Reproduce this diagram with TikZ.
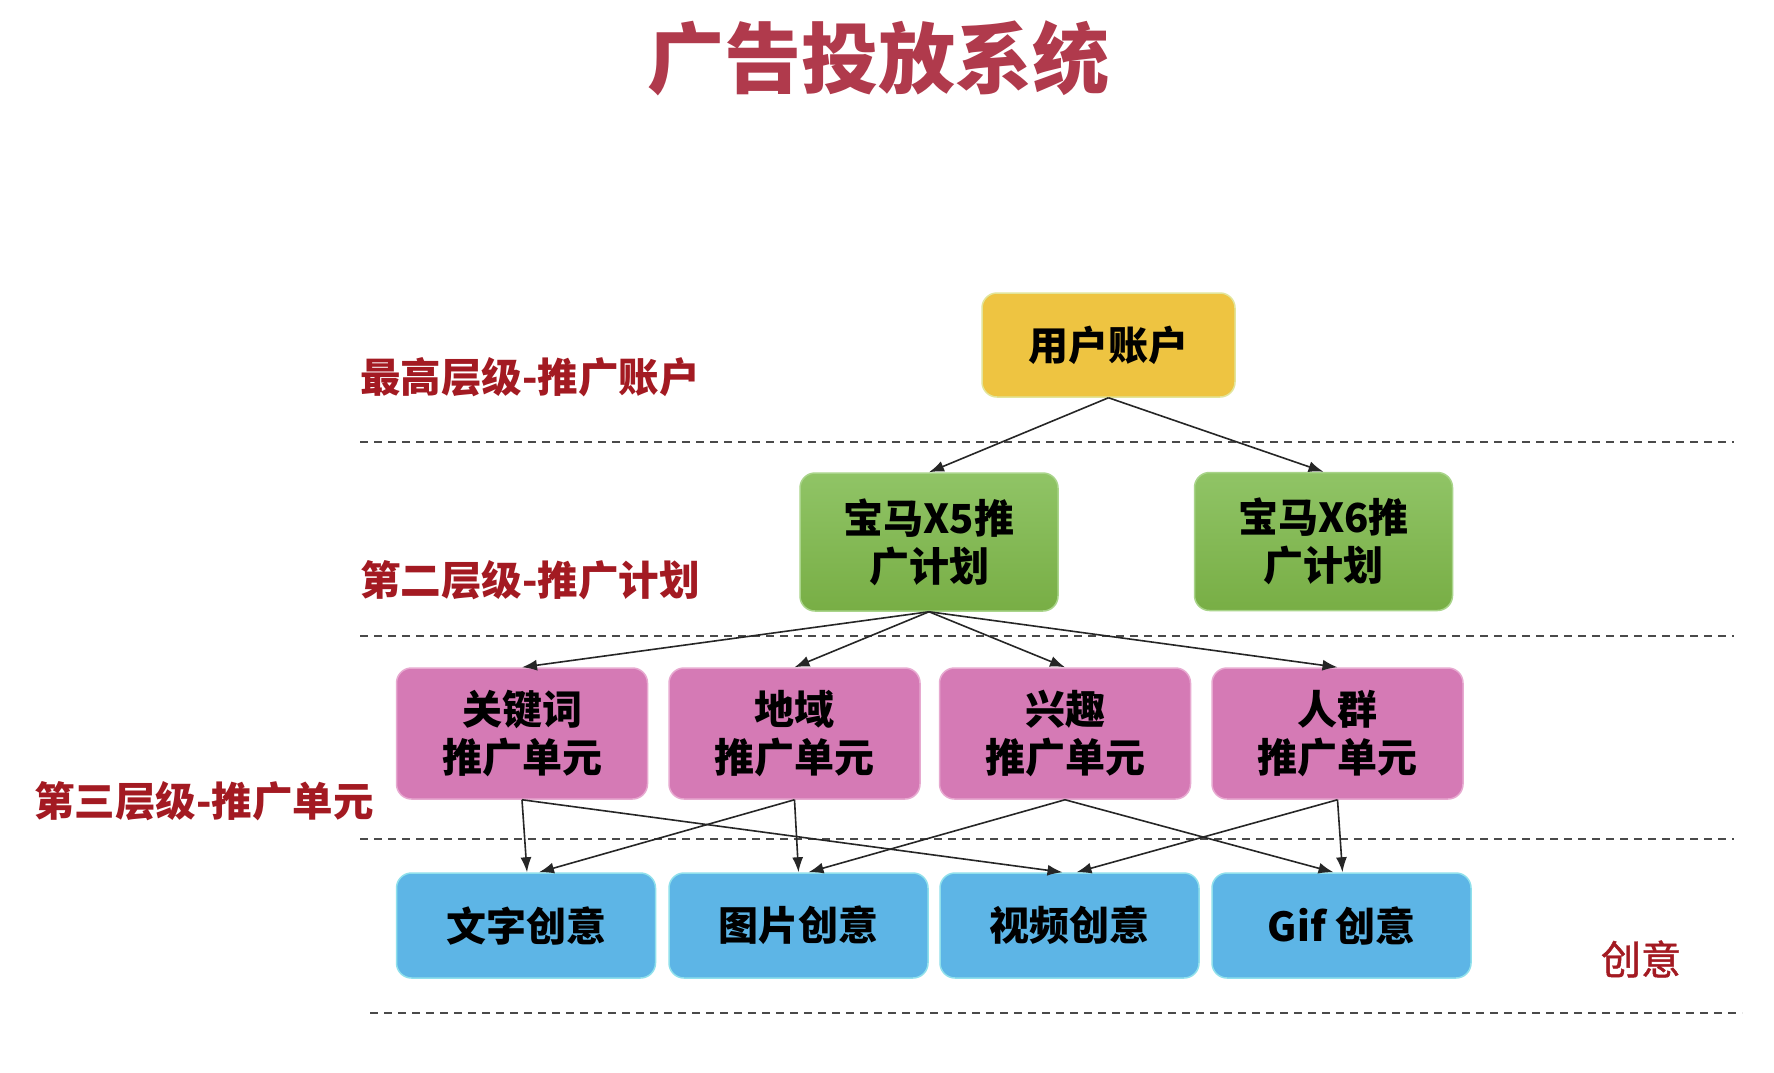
\documentclass[tikz,border=0pt]{standalone}
\usepackage{fontspec}
\setmainfont{Noto Sans CJK SC}
\newfontfamily\medfont[FakeBold=1.2]{Noto Sans CJK SC}
\usetikzlibrary{arrows.meta}
\definecolor{titlered}{HTML}{B03A4C}
\definecolor{labelred}{HTML}{A31A22}
\definecolor{acctfill}{HTML}{EEC441}
\definecolor{acctedge}{HTML}{E2E59A}
\definecolor{greentop}{HTML}{90C466}
\definecolor{greenbot}{HTML}{78AE45}
\definecolor{greenedge}{HTML}{A9D48A}
\definecolor{pinkfill}{HTML}{D57AB5}
\definecolor{pinkedge}{HTML}{E7A9D0}
\definecolor{bluefill}{HTML}{5DB5E6}
\definecolor{blueedge}{HTML}{8FE0EC}
\definecolor{dashgray}{HTML}{4A4A4A}
\tikzset{
  box/.style={rounded corners=15pt, inner sep=0pt, align=center,
    font=\bfseries\fontsize{40}{48}\selectfont, text=black, line width=1.5pt},
  acctbox/.style={box, fill=acctfill, draw=acctedge, minimum width=253pt, minimum height=104pt},
  planbox/.style={box, top color=greentop, bottom color=greenbot, draw=greenedge, minimum width=258pt, minimum height=138pt},
  unitbox/.style={box, fill=pinkfill, draw=pinkedge, minimum width=251pt, minimum height=131pt},
  ideabox/.style={box, fill=bluefill, draw=blueedge, minimum width=259pt, minimum height=105pt},
  conn/.style={line width=1.6pt, black!85, -{Latex[length=15pt,width=11pt]}},
  sep/.style={dashgray, line width=2pt, dash pattern=on 8pt off 6pt},
  lvl/.style={text=labelred, font=\bfseries\fontsize{40.5}{46}\selectfont, inner sep=0pt}
}
\begin{document}
\begin{tikzpicture}[x=1pt,y=-1pt]
\useasboundingbox[fill=white] (0,0) rectangle (1774,1072);
% title
\node[text=titlered, font=\bfseries\fontsize{77}{84}\selectfont, inner sep=0pt] (title) at (878,58) {广告投放系统};
% separators
\draw[sep] (360,442) -- (1734,442);
\draw[sep] (360,636) -- (1734,636);
\draw[sep] (360,839) -- (1734,839);
\draw[sep] (370,1013) -- (1742,1013);
% level labels
\node[lvl, anchor=west] (l1) at (360,377) {最高层级-推广账户};
\node[lvl, anchor=west] (l2) at (360,580) {第二层级-推广计划};
\node[lvl, anchor=west] (l3) at (34,801) {第三层级-推广单元};
\node[lvl, font=\medfont\fontsize{40}{46}\selectfont] (l4) at (1641,959) {创意};
% boxes
\node[acctbox] (acct) at (1108.5,345) {用户账户};
\node[planbox] (x5) at (929,542) {宝马X5推\\广计划};
\node[planbox] (x6) at (1323.5,541.5) {宝马X6推\\广计划};
\node[unitbox] (p1) at (522,733.5) {关键词\\推广单元};
\node[unitbox] (p2) at (794.5,733.5) {地域\\推广单元};
\node[unitbox] (p3) at (1065,733.5) {兴趣\\推广单元};
\node[unitbox] (p4) at (1337.5,733.5) {人群\\推广单元};
\node[ideabox] (b1) at (526,925.5) {文字创意};
\node[ideabox] (b2) at (798.5,925.5) {图片创意};
\node[ideabox] (b3) at (1069.5,925.5) {视频创意};
\node[ideabox] (b4) at (1341.5,925.5) {Gif 创意};
% connectors
\draw[conn] (acct.south) -- (x5.north);
\draw[conn] (acct.south) -- (x6.north);
\draw[conn] (x5.south) -- (p1.north);
\draw[conn] (x5.south) -- (p2.north);
\draw[conn] (x5.south) -- (p3.north);
\draw[conn] (x5.south) -- (p4.north);
\draw[conn] (p1.south) -- ([xshift=1pt]b1.north);
\draw[conn] (p1.south) -- ([xshift=-7pt]b3.north);
\draw[conn] (p2.south) -- ([xshift=13pt]b1.north);
\draw[conn] (p2.south) -- ([xshift=0pt]b2.north);
\draw[conn] (p3.south) -- ([xshift=10pt]b2.north);
\draw[conn] (p3.south) -- ([xshift=-8pt]b4.north);
\draw[conn] (p4.south) -- ([xshift=7pt]b3.north);
\draw[conn] (p4.south) -- ([xshift=1pt]b4.north);
\end{tikzpicture}
\end{document}
